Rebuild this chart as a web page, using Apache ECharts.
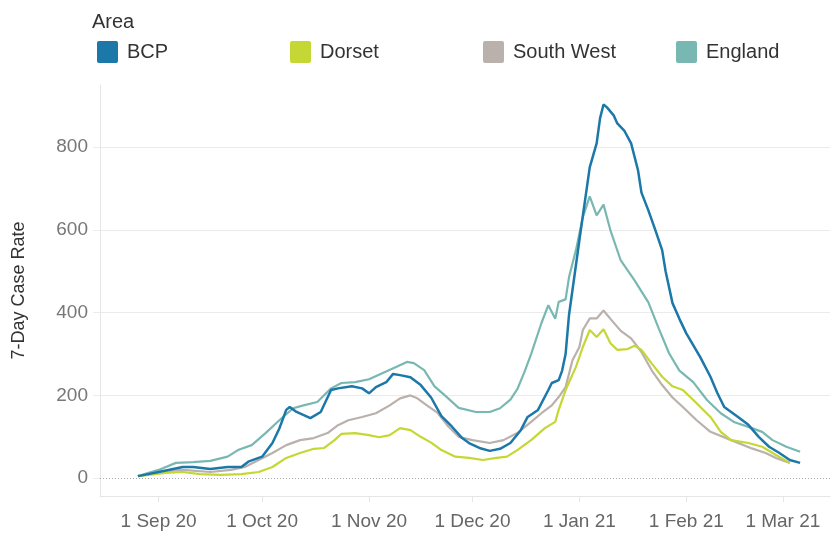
<!DOCTYPE html>
<html>
<head>
<meta charset="utf-8">
<script src="https://cdn.jsdelivr.net/npm/echarts@6/dist/echarts.min.js"></script>
<style>
html,body{margin:0;padding:0;background:#fff;}
#chart{width:832px;height:534px;}
</style>
</head>
<body>
<div id="chart"></div>
<script>
// ---- DATA ----
const seriesNames = ['BCP', 'Dorset', 'South West', 'England'];

const bcpDates = ['2020-08-26','2020-09-01','2020-09-08','2020-09-11','2020-09-16','2020-09-21','2020-09-25','2020-09-27','2020-10-01','2020-10-04','2020-10-06','2020-10-08','2020-10-09','2020-10-11','2020-10-15','2020-10-18','2020-10-21','2020-10-23','2020-10-27','2020-10-30','2020-11-01','2020-11-03','2020-11-06','2020-11-08','2020-11-10','2020-11-13','2020-11-16','2020-11-19','2020-11-22','2020-11-25','2020-11-28','2020-11-30','2020-12-03','2020-12-06','2020-12-09','2020-12-12','2020-12-15','2020-12-17','2020-12-20','2020-12-23','2020-12-24','2020-12-26','2020-12-27','2020-12-28','2020-12-29','2021-01-01','2021-01-04','2021-01-06','2021-01-07','2021-01-08','2021-01-09','2021-01-11','2021-01-12','2021-01-14','2021-01-16','2021-01-18','2021-01-19','2021-01-21','2021-01-23','2021-01-25','2021-01-26','2021-01-28','2021-01-30','2021-02-01','2021-02-05','2021-02-08','2021-02-10','2021-02-12','2021-02-16','2021-02-19','2021-02-22','2021-02-25','2021-02-28','2021-03-03','2021-03-06'];
const bcpValues = [5,15,27,27,22,27,27,40,52,85,120,165,172,160,145,160,213,217,222,217,205,220,232,252,249,244,225,195,150,125,97,85,73,66,71,85,116,148,165,213,230,237,260,300,395,575,751,809,870,903,896,876,857,840,809,744,690,647,600,551,500,423,385,350,293,245,206,172,148,129,100,76,61,44,37];

const dorsetDates = ['2020-08-26','2020-09-03','2020-09-08','2020-09-13','2020-09-19','2020-09-25','2020-09-30','2020-10-04','2020-10-08','2020-10-12','2020-10-16','2020-10-19','2020-10-22','2020-10-24','2020-10-28','2020-11-01','2020-11-04','2020-11-07','2020-11-10','2020-11-13','2020-11-16','2020-11-19','2020-11-22','2020-11-26','2020-11-30','2020-12-04','2020-12-08','2020-12-11','2020-12-14','2020-12-18','2020-12-22','2020-12-25','2020-12-26','2020-12-28','2020-12-31','2021-01-02','2021-01-04','2021-01-06','2021-01-08','2021-01-10','2021-01-12','2021-01-15','2021-01-17','2021-01-19','2021-01-22','2021-01-25','2021-01-28','2021-01-31','2021-02-04','2021-02-08','2021-02-11','2021-02-14','2021-02-19','2021-02-23','2021-02-27','2021-03-03'];
const dorsetValues = [5,13,15,10,8,10,15,27,49,61,71,73,92,107,109,104,99,104,121,116,100,86,68,52,49,44,49,52,68,92,121,136,165,213,269,317,358,341,360,326,310,312,320,310,277,245,222,213,181,148,112,92,85,76,56,37];

const southWestDates = ['2020-08-26','2020-09-01','2020-09-08','2020-09-16','2020-09-22','2020-09-26','2020-09-30','2020-10-04','2020-10-08','2020-10-12','2020-10-16','2020-10-20','2020-10-23','2020-10-26','2020-10-30','2020-11-03','2020-11-07','2020-11-10','2020-11-13','2020-11-15','2020-11-18','2020-11-21','2020-11-24','2020-11-27','2020-12-01','2020-12-06','2020-12-10','2020-12-14','2020-12-18','2020-12-21','2020-12-24','2020-12-26','2020-12-28','2020-12-30','2021-01-01','2021-01-02','2021-01-04','2021-01-06','2021-01-08','2021-01-10','2021-01-13','2021-01-16','2021-01-19','2021-01-22','2021-01-25','2021-01-28','2021-01-31','2021-02-04','2021-02-08','2021-02-14','2021-02-20','2021-02-24','2021-02-27','2021-03-03'];
const southWestValues = [5,15,20,15,20,27,44,61,80,92,97,109,128,140,148,157,176,193,200,193,175,157,125,100,92,85,92,109,136,157,176,196,220,285,317,358,386,386,405,385,356,338,305,260,225,195,172,140,112,92,72,61,49,37];

const englandDates = ['2020-08-26','2020-09-01','2020-09-06','2020-09-11','2020-09-16','2020-09-21','2020-09-24','2020-09-28','2020-10-02','2020-10-06','2020-10-10','2020-10-13','2020-10-17','2020-10-21','2020-10-24','2020-10-28','2020-11-01','2020-11-05','2020-11-09','2020-11-12','2020-11-14','2020-11-17','2020-11-20','2020-11-23','2020-11-27','2020-12-02','2020-12-06','2020-12-09','2020-12-12','2020-12-14','2020-12-16','2020-12-18','2020-12-21','2020-12-23','2020-12-25','2020-12-26','2020-12-28','2020-12-29','2020-12-31','2021-01-02','2021-01-04','2021-01-06','2021-01-08','2021-01-10','2021-01-13','2021-01-17','2021-01-21','2021-01-24','2021-01-27','2021-01-30','2021-02-03','2021-02-07','2021-02-11','2021-02-15','2021-02-19','2021-02-23','2021-02-26','2021-03-02','2021-03-06'];
const englandValues = [5,20,37,39,42,52,68,80,109,140,169,176,184,217,230,232,239,254,269,281,278,261,222,200,170,160,160,169,190,215,255,300,375,418,385,426,432,486,551,631,681,635,661,599,526,478,425,362,302,260,232,189,157,135,124,112,92,76,64];

const xTickDates = ['2020-09-01','2020-10-01','2020-11-01','2020-12-01','2021-01-01','2021-02-01','2021-03-01'];
const xTickLabels = ['1 Sep 20','1 Oct 20','1 Nov 20','1 Dec 20','1 Jan 21','1 Feb 21','1 Mar 21'];
const yTickValues = [0, 200, 400, 600, 800];
const gridLineValues = [200, 400, 600, 800];

// ---- BUILD ----
function ts(s) { const p = s.split('-').map(Number); return Date.UTC(p[0], p[1] - 1, p[2]); }
function pairs(dates, vals) { return dates.map((d, i) => [ts(d), vals[i]]); }
const xTickTs = xTickDates.map(ts);

const colors = { 'BCP': '#1b78a9', 'Dorset': '#c4d734', 'South West': '#bab0ac', 'England': '#79b8b2' };
const FONT = '"Liberation Sans", Arial, sans-serif';
const SWATCH = 'path://M2,0H19Q21,0 21,2V20Q21,22 19,22H2Q0,22 0,20V2Q0,0 2,0Z';

const chart = echarts.init(document.getElementById('chart'), null, { renderer: 'canvas' });

function legendFor(name, left) {
  return {
    left: left, top: 41, padding: 0, orient: 'horizontal',
    data: [name], icon: SWATCH, itemWidth: 21, itemHeight: 22,
    selectedMode: false,
    textStyle: { fontFamily: FONT, fontSize: 20, color: '#333', padding: [0, 0, 0, 4] }
  };
}

function lineSeries(name, data, width, z) {
  return {
    name: name, type: 'line', data: data, showSymbol: false, symbol: 'none',
    lineStyle: { color: colors[name], width: width }, itemStyle: { color: colors[name] },
    z: z, animation: false
  };
}

const englandSeries = lineSeries('England', pairs(englandDates, englandValues), 2.2, 2);
englandSeries.markLine = {
  silent: true, symbol: ['none', 'none'], z: 1, animation: false,
  label: { show: false },
  data: gridLineValues.map(v => ({ yAxis: v, lineStyle: { color: '#ebebeb', width: 1, type: 'solid' } }))
    .concat([{ yAxis: 0, lineStyle: { color: '#a8a8a8', width: 1, type: [1, 2] } }])
};

chart.setOption({
  backgroundColor: '#fff',
  animation: false,
  title: { text: 'Area', left: 92, top: 12, padding: 0,
    textStyle: { fontFamily: FONT, fontSize: 20, fontWeight: 'normal', color: '#333' } },
  legend: [legendFor('BCP', 97), legendFor('Dorset', 290), legendFor('South West', 483), legendFor('England', 676)],
  grid: { left: 100, right: 2, top: 85, bottom: 38, containLabel: false },
  xAxis: {
    type: 'value',
    min: ts('2020-08-15'), max: ts('2021-03-15') - 8 * 3600 * 1000,
    axisLine: { show: true, onZero: false, lineStyle: { color: '#e6e6e6', width: 1 } },
    axisTick: { show: true, length: 6, customValues: xTickTs, lineStyle: { color: '#e6e6e6' } },
    axisLabel: { customValues: xTickTs, margin: 16, fontFamily: FONT, fontSize: 19, color: '#666',
      formatter: function (v) { const i = xTickTs.indexOf(v); return i >= 0 ? xTickLabels[i] : ''; } },
    splitLine: { show: false }
  },
  yAxis: {
    type: 'value', min: -43, max: 950,
    name: '7-Day Case Rate', nameLocation: 'middle', nameGap: 72, nameRotate: 90,
    nameTextStyle: { fontFamily: FONT, fontSize: 18, color: '#333' },
    axisLine: { show: true, lineStyle: { color: '#e6e6e6', width: 1 } },
    axisTick: { show: true, length: 7, customValues: yTickValues, lineStyle: { color: '#ebebeb' } },
    axisLabel: { customValues: yTickValues, margin: 12, fontFamily: FONT, fontSize: 19, color: '#777' },
    splitLine: { show: false }
  },
  series: [
    englandSeries,
    lineSeries('South West', pairs(southWestDates, southWestValues), 2.2, 3),
    lineSeries('Dorset', pairs(dorsetDates, dorsetValues), 2.2, 4),
    lineSeries('BCP', pairs(bcpDates, bcpValues), 2.5, 5)
  ]
});
</script>
</body>
</html>
